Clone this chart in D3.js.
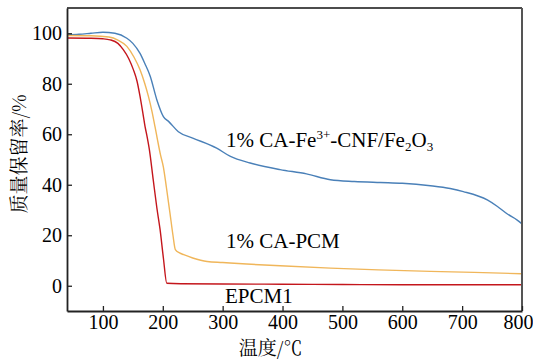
<!DOCTYPE html>
<html>
<head>
<meta charset="utf-8">
<script src="https://cdn.jsdelivr.net/npm/d3@7"></script>
<style>
  html, body { margin: 0; padding: 0; background: #fff; }
  svg { display: block; }
</style>
</head>
<body>
<div id="chart"></div>
<script>
// ---- data ----
const blueT = [40, 60, 80, 100, 120, 140, 150, 162, 170, 179, 190, 201, 210, 226, 250, 290, 313, 346, 396, 440, 480, 520, 563, 600, 647, 680, 702, 742, 759, 775, 792, 800];
const blueW = [99.3, 99.6, 100, 100.4, 100, 98, 96, 92, 88, 83, 73.7, 67, 65, 61, 58.5, 54.5, 51.2, 48.6, 46, 44.3, 42, 41.3, 40.9, 40.6, 39.6, 38.5, 37.3, 34, 31.4, 28.5, 26, 24.5];
const orangeT = [40, 80, 110, 125, 140, 152, 162, 170, 176, 182, 187, 191, 196, 201, 206, 212, 217, 221, 228, 235, 250, 274, 300, 340, 396, 480, 560, 647, 720, 800];
const orangeW = [99.1, 99.0, 98.5, 97.3, 94.8, 90.5, 85.5, 80, 75, 69, 63, 58, 52, 47, 39, 28.8, 20, 14.3, 13, 12.3, 11, 9.6, 9.2, 8.6, 7.9, 7, 6.3, 5.7, 5.3, 4.75];
const redT = [40, 80, 100, 112, 125, 134, 143, 151, 157, 162, 167, 170.4, 173, 177.6, 184, 190, 195.5, 201, 206.7, 230, 300, 400, 500, 600, 700, 800];
const redW = [98.1, 98.0, 97.8, 97.4, 96, 93.5, 90, 85.5, 81, 75, 68, 63, 60, 53.9, 42, 31, 22.2, 11, 1, 0.8, 0.7, 0.6, 0.5, 0.4, 0.4, 0.4];
const xTicks = [100, 200, 300, 400, 500, 600, 700, 800];
const yTicks = [0, 20, 40, 60, 80, 100];
const seriesNames = ["1% CA-Fe3+-CNF/Fe2O3", "1% CA-PCM", "EPCM1"];
const seriesColors = ["#4a80b8", "#f0b65a", "#c4161c"];
const xTitle = "温度/℃";
const yTitle = "质量保留率/%";

// ---- layout ----
const W = 533, H = 360;
const m = { left: 67, top: 8, right: 11, bottom: 49 };
const iw = W - m.left - m.right, ih = H - m.top - m.bottom;

const svg = d3.select("#chart").append("svg").attr("width", W).attr("height", H);
const g = svg.append("g").attr("transform", `translate(${m.left},${m.top})`);

const x = d3.scaleLinear().domain([40, 800]).range([0, iw]);
const y = d3.scaleLinear().domain([-10, 110]).range([ih, 0]);

const serif = "Liberation Serif";
const cjk = "Noto Serif CJK SC";

// lines
const series = [
  { t: blueT, w: blueW },
  { t: orangeT, w: orangeW },
  { t: redT, w: redW }
];
const line = d3.line().x(d => x(d[0])).y(d => y(d[1])).curve(d3.curveMonotoneX);
series.forEach((s, i) => {
  g.append("path")
    .datum(s.t.map((t, j) => [t, s.w[j]]))
    .attr("fill", "none")
    .attr("stroke", seriesColors[i])
    .attr("stroke-width", 1.4)
    .attr("d", line);
});

// frame (top, right)
g.append("line").attr("x1", 0).attr("x2", iw).attr("y1", 0).attr("y2", 0)
  .attr("stroke", "#111").attr("stroke-width", 1.5);
g.append("line").attr("x1", iw).attr("x2", iw).attr("y1", 0).attr("y2", ih)
  .attr("stroke", "#555").attr("stroke-width", 2);

// axes
const xAxis = d3.axisBottom(x).tickValues(xTicks).tickSizeInner(-5).tickSizeOuter(0).tickPadding(4);
const yAxis = d3.axisLeft(y).tickValues(yTicks).tickSizeInner(-5).tickSizeOuter(0).tickPadding(5);

const gx = g.append("g").attr("transform", `translate(0,${ih})`).call(xAxis);
const gy = g.append("g").call(yAxis);
[gx, gy].forEach(a => {
  a.attr("font-family", serif).attr("font-size", 20);
  a.select(".domain").attr("stroke", "#222").attr("stroke-width", 1.8);
  a.selectAll(".tick line").attr("stroke", "#222").attr("stroke-width", 1.3);
  a.selectAll(".tick text").attr("fill", "#000");
});
gx.selectAll(".tick text").filter(d => d === 800).attr("dx", -4);

// axis titles
svg.append("text").attr("x", m.left + x(380)).attr("y", 355)
  .attr("text-anchor", "middle").attr("font-family", cjk).attr("font-size", 19).attr("fill", "#000")
  .text(xTitle);
svg.append("text").attr("transform", `translate(26,${154}) rotate(-90)`)
  .attr("text-anchor", "middle").attr("font-family", cjk).attr("font-size", 19).attr("fill", "#000")
  .text(yTitle);

// series labels
const lab1 = svg.append("text").attr("x", 226).attr("y", 147)
  .attr("font-family", serif).attr("font-size", 21).attr("fill", "#000");
lab1.append("tspan").text("1% CA-Fe");
lab1.append("tspan").attr("font-size", 13).attr("dy", -8).text("3+");
lab1.append("tspan").attr("dy", 8).text("-CNF/Fe");
lab1.append("tspan").attr("font-size", 13).attr("dy", 4).text("2");
lab1.append("tspan").attr("dy", -4).text("O");
lab1.append("tspan").attr("font-size", 13).attr("dy", 4).text("3");

svg.append("text").attr("x", 226).attr("y", 248)
  .attr("font-family", serif).attr("font-size", 21).attr("fill", "#000").text(seriesNames[1]);
svg.append("text").attr("x", 225).attr("y", 303)
  .attr("font-family", serif).attr("font-size", 21).attr("fill", "#000").text(seriesNames[2]);
</script>
</body>
</html>
